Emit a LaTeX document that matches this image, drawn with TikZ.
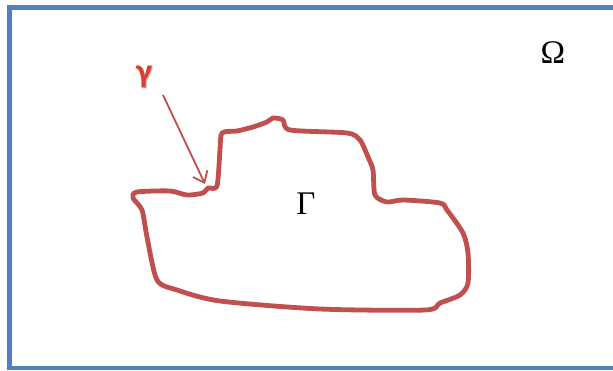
\documentclass[tikz,border=0pt]{standalone}
\usepackage{fontspec}
\setmainfont{Liberation Serif}
\newfontfamily\calib{Carlito}
\usetikzlibrary{arrows.meta}
\definecolor{boxblue}{HTML}{4F81BD}
\definecolor{curvered}{HTML}{C0504D}
\definecolor{gamred}{HTML}{E03C31}
\tikzset{
  frame/.style={draw=boxblue, line width=4.5pt},
  boundary/.style={draw=curvered, line width=4.8pt, line join=round, line cap=round},
  pointer/.style={draw=curvered, line width=1.8pt, -{Straight Barb[length=10pt,width=16pt]}},
  greeklabel/.style={font=\fontsize{33}{36}\selectfont, inner sep=0pt}
}
\begin{document}
\begin{tikzpicture}[x=1pt,y=-1pt]
\useasboundingbox (0,0) rectangle (613,371);
\fill[white] (0,0) rectangle (613,371);
\draw[frame] (9.5,7.5) rectangle (625,368);
\draw[boundary] plot[smooth cycle, tension=0.45] coordinates {
 (133,198) (137,192) (170,191) (187,195) (203,193) (208,188) (217,186)
 (220,150) (222,133) (237,131) (253,127) (267,122) (273,118) (283,120)
 (290,130) (347,133) (360,140) (368,157) (373,170) (375,195) (387,202)
 (403,200) (440,203) (447,210) (463,233) (468,253) (468,283) (460,295)
 (440,303) (425,310) (320,309) (220,301) (177,290) (157,280) (147,237)
 (142,210)};
\coordinate (tail) at (163,95);
\coordinate (tip) at (205,184);
\draw[pointer] (tail) -- (tip);
\node[text=gray!55, font=\calib\bfseries\fontsize{34}{36}\selectfont, inner sep=0pt] (gshadow) at (145,78) {γ};
\node[text=gamred, font=\calib\bfseries\fontsize{34}{36}\selectfont, inner sep=0pt] (gamma) at (144,77) {γ};
\node[greeklabel] (omega) at (553,53) {Ω};
\node[greeklabel] (Gamma) at (306,204) {Γ};
\end{tikzpicture}
\end{document}
